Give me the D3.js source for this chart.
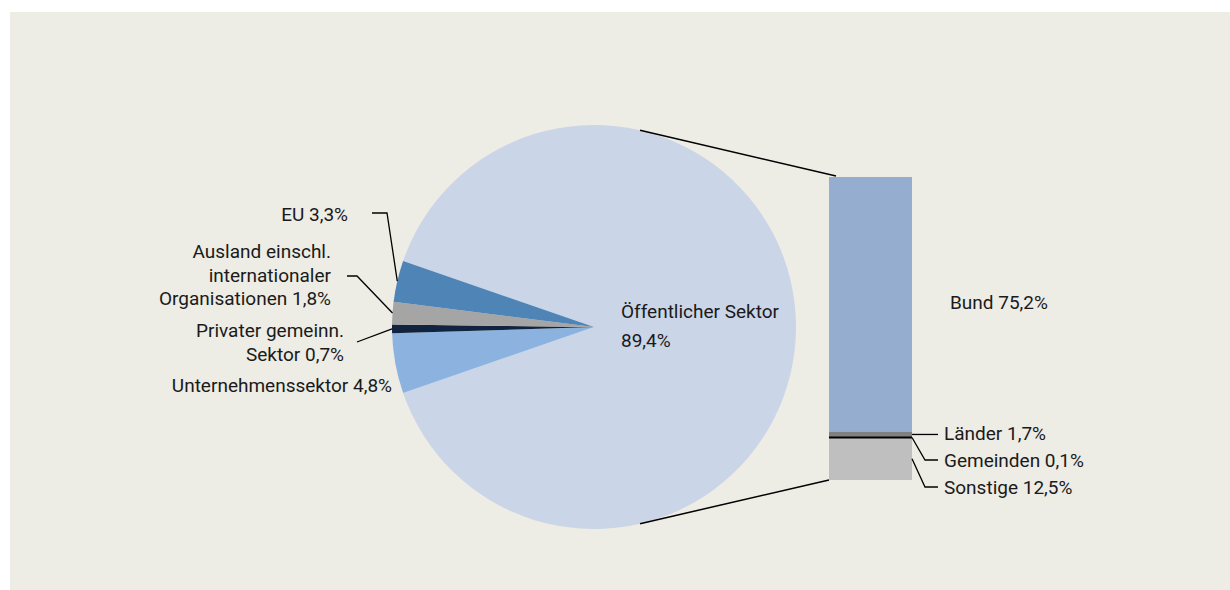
<!DOCTYPE html>
<html>
<head>
<meta charset="utf-8">
<script src="https://cdn.jsdelivr.net/npm/d3@7"></script>
<style>
  body { margin: 0; background: #ffffff; }
  svg text { font-family: Roboto, "Liberation Sans", sans-serif; font-size: 19px; fill: #1a1a1a; }
</style>
</head>
<body>
<svg width="1230" height="590"></svg>
<script>
// pie slices, clockwise starting with the big one
var pieLabels = ["Öffentlicher Sektor", "Unternehmenssektor", "Privater gemeinn. Sektor", "Ausland einschl. internationaler Organisationen", "EU"];
var pieValues = [89.4, 4.8, 0.7, 1.8, 3.3];
var pieColors = ["#cbd5e8", "#8cb3e0", "#10233f", "#a5a5a5", "#4e85b6"];

// breakdown of the public sector (bar)
var barLabels = ["Bund", "Länder", "Gemeinden", "Sonstige"];
var barValues = [75.2, 1.7, 0.1, 12.5];
var barColors = ["#95aed0", "#808080", "#000000", "#bfbfbf"];

function fmt(v) { return String(v).replace(".", ","); }

document.addEventListener('DOMContentLoaded', function() {
  var svg = d3.select("svg");

  svg.append("rect")
    .attr("x", 10).attr("y", 12)
    .attr("width", 1220).attr("height", 578)
    .attr("fill", "#edece5");

  var cx = 594, cy = 327, r = 202;
  var total = d3.sum(pieValues);
  var small = (total - pieValues[0]) / total * 2 * Math.PI;
  var start = -Math.PI / 2 + small / 2;

  var pie = d3.pie().sort(null).startAngle(start).endAngle(start + 2 * Math.PI);
  var arcs = pie(pieValues);
  var arc = d3.arc().innerRadius(0).outerRadius(r);
  var rim = d3.arc().innerRadius(r).outerRadius(r);

  var g = svg.append("g").attr("transform", "translate(" + cx + "," + cy + ")");
  g.selectAll("path.slice")
    .data(arcs)
    .enter().append("path")
    .attr("class", "slice")
    .attr("d", arc)
    .attr("fill", function(d, i) { return pieColors[i]; });

  // bar
  var bx = 829, bw = 83;
  var y = d3.scaleLinear().domain([0, d3.sum(barValues)]).range([177, 480]);
  var stack = [];
  var acc = 0;
  barValues.forEach(function(v, i) {
    stack.push({ i: i, y0: acc, y1: acc + v });
    acc += v;
  });

  svg.selectAll("rect.bar")
    .data(stack)
    .enter().append("rect")
    .attr("class", "bar")
    .attr("x", bx).attr("width", bw)
    .attr("y", function(d) { return y(d.y0); })
    .attr("height", function(d) { return y(d.y1) - y(d.y0); })
    .attr("fill", function(d) { return barColors[d.i]; });

  // Gemeinden is too thin, draw it as a black line
  var gm = stack[2];
  svg.append("line")
    .attr("x1", bx).attr("x2", bx + bw)
    .attr("y1", y((gm.y0 + gm.y1) / 2)).attr("y2", y((gm.y0 + gm.y1) / 2))
    .attr("stroke", "#000").attr("stroke-width", 2);

  // connector lines pie -> bar
  var ca = 0.23;
  svg.append("line")
    .attr("x1", cx + r * Math.sin(ca)).attr("y1", cy - r * Math.cos(ca))
    .attr("x2", bx + 7).attr("y2", y(0) - 1)
    .attr("stroke", "#000").attr("stroke-width", 1.5);
  svg.append("line")
    .attr("x1", cx + r * Math.sin(ca)).attr("y1", cy + r * Math.cos(ca))
    .attr("x2", bx).attr("y2", y(acc))
    .attr("stroke", "#000").attr("stroke-width", 1.5);

  // pie labels
  var big = svg.append("text").attr("x", 621).attr("y", 318);
  big.append("tspan").attr("x", 621).text(pieLabels[0]);
  big.append("tspan").attr("x", 621).attr("dy", 29).text(fmt(pieValues[0]) + "%");

  var leftLabels = [
    { i: 4, x: 348, y: 221, lines: ["EU " + fmt(pieValues[4]) + "%"], from: [[372, 213], [387, 213]] },
    { i: 3, x: 331, y: 258, lines: ["Ausland einschl.", "internationaler", "Organisationen " + fmt(pieValues[3]) + "%"], from: [[347, 276], [357, 276]] },
    { i: 2, x: 344, y: 337, lines: ["Privater gemeinn.", "Sektor " + fmt(pieValues[2]) + "%"], from: [[357, 342]] },
    { i: 1, x: 392, y: 392, lines: ["Unternehmenssektor " + fmt(pieValues[1]) + "%"], from: null }
  ];

  leftLabels.forEach(function(l) {
    var t = svg.append("text").attr("text-anchor", "end").attr("y", l.y);
    l.lines.forEach(function(s, k) {
      t.append("tspan").attr("x", l.x).attr("dy", k ? 23.5 : 0).text(s);
    });
    if (l.from) {
      var c = rim.centroid(arcs[l.i]);
      var pts = l.from.concat([[cx + c[0], cy + c[1]]]);
      svg.append("path")
        .attr("d", d3.line()(pts))
        .attr("fill", "none").attr("stroke", "#000").attr("stroke-width", 1.3);
    }
  });

  // bar labels
  svg.append("text").attr("x", 950).attr("y", 309)
    .text(barLabels[0] + " " + fmt(barValues[0]) + "%");

  var labelY = [440, 467, 494];
  [1, 2, 3].forEach(function(i, k) {
    var s = stack[i];
    var ym = y((s.y0 + s.y1) / 2);
    var ly = labelY[k] - 7;
    svg.append("text").attr("x", 944).attr("y", labelY[k])
      .text(barLabels[i] + " " + fmt(barValues[i]) + "%");
    var pts = k === 0 ? [[bx + bw, ym], [938, ym]] : [[bx + bw, ym], [925, ly], [938, ly]];
    svg.append("path")
      .attr("d", d3.line()(pts))
      .attr("fill", "none").attr("stroke", "#000").attr("stroke-width", 1.3);
  });
});
</script>
</body>
</html>
